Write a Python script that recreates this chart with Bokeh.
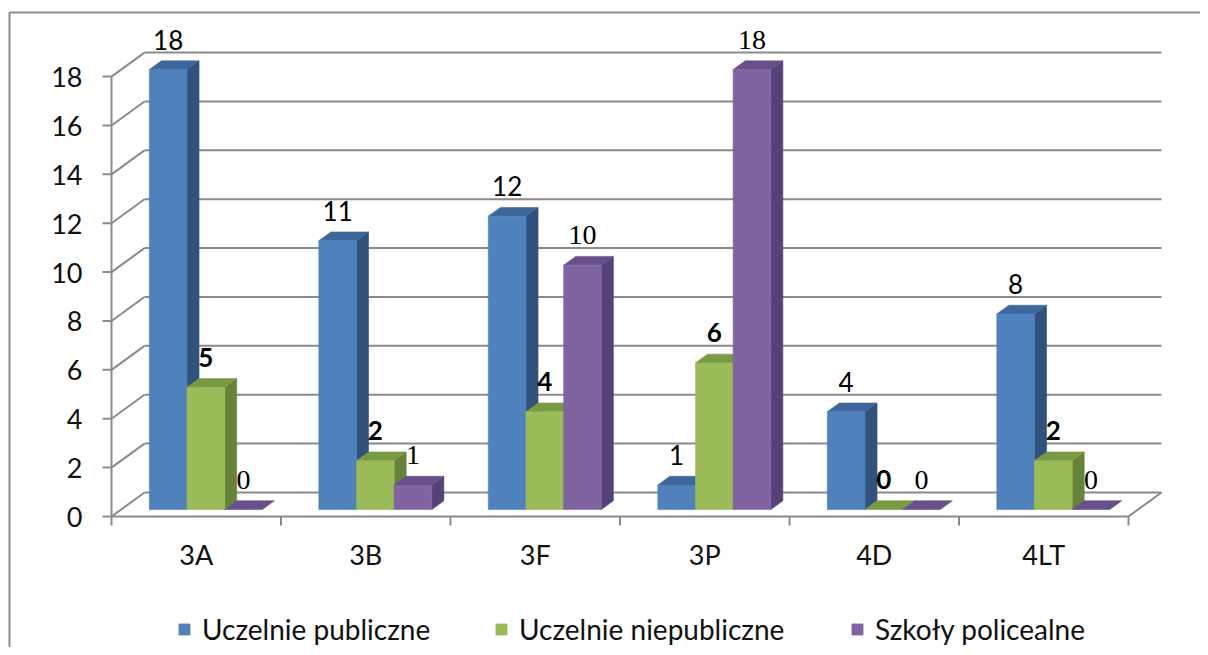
from bokeh.plotting import figure
from bokeh.models import Range1d, ColumnDataSource, Legend, LegendItem
from bokeh.embed import file_html
from bokeh.resources import INLINE
from bokeh.core.properties import value

# ---------------- data ----------------
categories = ["3A", "3B", "3F", "3P", "4D", "4LT"]
series_names = ["Uczelnie publiczne", "Uczelnie niepubliczne", "Szkoły policealne"]
uczelnie_publiczne = [18, 11, 12, 1, 4, 8]
uczelnie_niepubliczne = [5, 2, 4, 6, 0, 2]
szkoly_policealne = [0, 1, 10, 18, 0, 0]
y_ticks = [0, 2, 4, 6, 8, 10, 12, 14, 16, 18]
y_tick_labels = [str(t) for t in y_ticks]

series_values = [uczelnie_publiczne, uczelnie_niepubliczne, szkoly_policealne]

# ---------------- geometry (pixels -> data units) ----------------
W, H = 1200, 647
OFF = 0                      # canvas origin in page pixels
PX0, PXU = 111.0, 169.5      # page x of category 0 edge, px per category
PY0, PYU = 516.0, 24.44      # page y of value 0 (front), px per value unit
x_start = (OFF - PX0) / PXU
x_end = x_start + W / PXU
y_end = (PY0 - OFF) / PYU
y_start = y_end - H / PYU


def px(d):
    return d / PXU


def py(d):
    return d / PYU


TXT = py(10)                  # text baseline correction

DX, DY = px(33), py(24)       # depth of the 3D box
F0, F1 = 0.29, 0.655          # bar front / back depth fractions
BAR_W = 2.0 / 9.0
GROUP_OFF = 1.0 / 6.0
NCAT = len(categories)
YMAX = y_ticks[-1]

front_cols = ["#4F81BD", "#9BBB59", "#8064A2"]
side_cols = ["#30527D", "#67833A", "#574277"]
top_cols = ["#3D669A", "#789A42", "#674F8A"]

GRID = "#8A8A8A"

p = figure(width=W, height=H, x_range=Range1d(x_start, x_end),
           y_range=Range1d(y_start, y_end), output_backend="svg",
           toolbar_location=None, x_axis_type=None, y_axis_type=None,
           min_border=0)
p.grid.visible = False
p.outline_line_color = None
p.background_fill_color = "white"
p.border_fill_color = "white"

# outer chart border (left + top)
p.line([px(9 - PX0), px(9 - PX0), px(1300 - PX0)],
       [py(PY0 - 700), py(PY0 - 12), py(PY0 - 12)],
       line_color="#8C8C8C", line_width=2)

# back wall gridlines + left wall diagonals
p.multi_line(xs=[[DX, NCAT + DX] for v in y_ticks],
             ys=[[v + DY, v + DY] for v in y_ticks],
             line_color=GRID, line_width=2)
p.multi_line(xs=[[0, DX] for v in y_ticks],
             ys=[[v, v + DY] for v in y_ticks],
             line_color=GRID, line_width=2)
# front value axis and ticks
p.line([0, 0], [0, YMAX], line_color=GRID, line_width=2)
p.multi_line(xs=[[-px(9), 0] for v in y_ticks],
             ys=[[v, v] for v in y_ticks], line_color=GRID, line_width=2)
# floor front and right edges
p.line([0, NCAT, NCAT + DX], [0, 0, DY], line_color=GRID, line_width=2)
# category ticks
p.multi_line(xs=[[i, i] for i in range(NCAT + 1)],
             ys=[[0, -py(9)] for i in range(NCAT + 1)],
             line_color=GRID, line_width=2)

# y tick labels
p.text(x=[px(82 - PX0)] * len(y_ticks), y=[v - py(10.5) + TXT for v in y_ticks],
       text=y_tick_labels, text_align="right", text_baseline="alphabetic",
       text_font=value("Lato"), text_font_size="27px", text_color="#111111")

# category labels
p.text(x=[i + 0.5 for i in range(NCAT)], y=[-py(564 - PY0) + TXT] * NCAT,
       text=categories, text_align="center", text_baseline="alphabetic",
       text_font=value("Lato"), text_font_size="27px", text_color="#111111")

# ---------------- 3D bars as faces ----------------
xs, ys, fills = [], [], []
front_index = {}
for i in range(NCAT):
    for k in range(3):
        v = series_values[k][i]
        xl = i + GROUP_OFF + k * BAR_W
        xr = xl + BAR_W
        b0, b1 = F0 * DY, F1 * DY
        # side face
        if v > 0:
            xs.append([xr + F0 * DX, xr + F1 * DX, xr + F1 * DX, xr + F0 * DX])
            ys.append([b0, b1, v + b1, v + b0])
            fills.append(side_cols[k])
        # top face
        xs.append([xl + F0 * DX, xr + F0 * DX, xr + F1 * DX, xl + F1 * DX])
        ys.append([v + b0, v + b0, v + b1, v + b1])
        fills.append(top_cols[k])
        # front face
        if v > 0:
            xs.append([xl + F0 * DX, xr + F0 * DX, xr + F0 * DX, xl + F0 * DX])
            ys.append([b0, b0, v + b0, v + b0])
            fills.append(front_cols[k])
            front_index.setdefault(k, len(fills) - 1)

src = ColumnDataSource(dict(xs=xs, ys=ys, fill=fills))
faces = p.patches("xs", "ys", source=src, fill_color="fill", line_color="fill",
                  line_width=0.6)

# ---------------- data labels ----------------
label_fonts = [("Lato", "normal", "26px"), ("Lato", "bold", "26px"),
               ("Liberation Serif", "normal", "28px")]
for k in range(3):
    lx = [i + GROUP_OFF + k * BAR_W + BAR_W / 2 + F0 * DX for i in range(NCAT)]
    ly = [series_values[k][i] + F0 * DY + py(20) + TXT for i in range(NCAT)]
    fnt, style, size = label_fonts[k]
    p.text(x=lx, y=ly, text=[str(v) for v in series_values[k]],
           text_align="center", text_baseline="alphabetic",
           text_font=value(fnt), text_font_style=style, text_font_size=size,
           text_color="#000000")

# ---------------- legend (three single-item legends) ----------------
legend_x = [177 - OFF, 494 - OFF, 850 - OFF]
legend_y = H - (630 - OFF) - 16
for k in range(3):
    leg = Legend(items=[LegendItem(label=series_names[k], renderers=[faces],
                                   index=front_index[k])],
                 location=(legend_x[k], legend_y), orientation="horizontal",
                 glyph_width=14, glyph_height=14, label_standoff=11,
                 padding=0, margin=0, border_line_color=None,
                 background_fill_alpha=0, label_text_font="Lato",
                 label_text_font_size="28px", label_text_color="#111111")
    p.add_layout(leg)

open("out.html", "w").write(file_html(p, INLINE))
